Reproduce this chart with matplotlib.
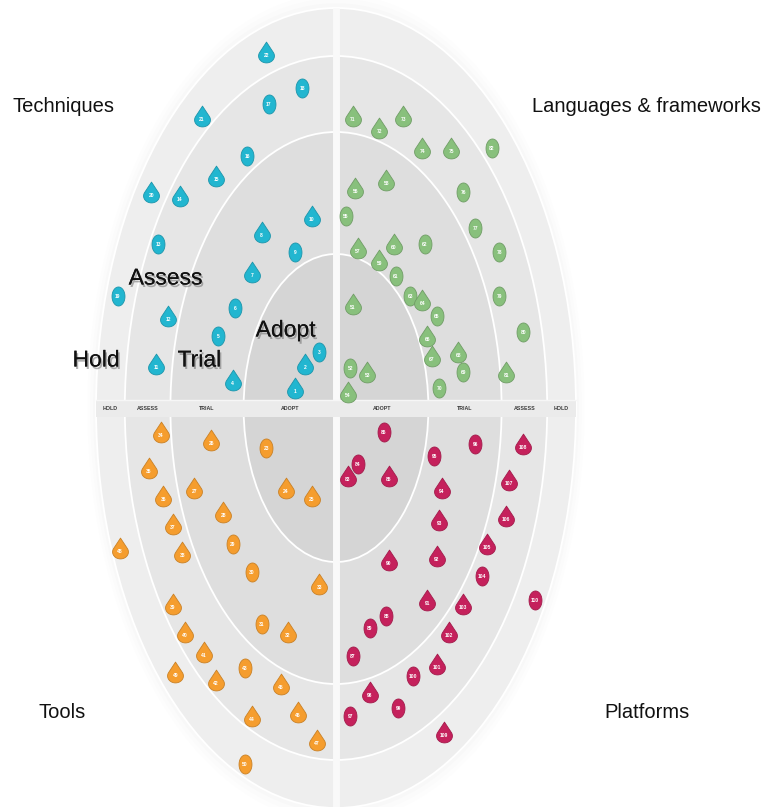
import numpy as np
import matplotlib
matplotlib.use("Agg")
import matplotlib.pyplot as plt
from matplotlib.patches import Circle, Rectangle
from matplotlib.path import Path
import matplotlib.patheffects as pe

# Rings (radius as fraction of the outer ring)
ring_names = ["Adopt", "Trial", "Assess", "Hold"]
ring_radii = [0.385, 0.69, 0.88, 1.0]
ring_colors = ["#d5d5d5", "#dedede", "#e6e6e6", "#eeeeee"]

quadrant_names = ["Techniques", "Languages & frameworks", "Tools", "Platforms"]
quadrant_colors = ["#22b6d0", "#88c07c", "#f59d2e", "#c5215c"]

# Blips: number, x, y in radar units, shape (t = new or moved, c = no change)
tech_num = list(range(1, 23))
tech_x = [-0.17, -0.13, -0.07, -0.43, -0.49, -0.42, -0.35, -0.31, -0.17, -0.10, -0.75,
          -0.70, -0.74, -0.65, -0.50, -0.37, -0.28, -0.14, -0.91, -0.77, -0.56, -0.29]
tech_y = [0.05, 0.11, 0.14, 0.07, 0.18, 0.25, 0.34, 0.44, 0.39, 0.48, 0.11,
          0.23, 0.41, 0.53, 0.58, 0.63, 0.76, 0.80, 0.28, 0.54, 0.73, 0.89]
tech_shape = "ttctc" "cttct" "ttctt" "cccct" "tt"

lang_num = list(range(51, 83))
lang_x = [0.07, 0.06, 0.13, 0.05, 0.04, 0.08, 0.09, 0.21, 0.18, 0.24, 0.25, 0.37, 0.31, 0.36,
          0.42, 0.38, 0.40, 0.51, 0.53, 0.43, 0.07, 0.18, 0.28, 0.36, 0.48, 0.53, 0.58, 0.68,
          0.68, 0.78, 0.71, 0.65]
lang_y = [0.26, 0.10, 0.09, 0.04, 0.48, 0.55, 0.40, 0.57, 0.37, 0.41, 0.33, 0.41, 0.28, 0.27,
          0.23, 0.18, 0.13, 0.14, 0.09, 0.05, 0.73, 0.70, 0.73, 0.65, 0.65, 0.54, 0.45, 0.39,
          0.28, 0.19, 0.09, 0.65]
lang_shape = "tcttc" "ttttt" "ccctc" "tttcc" "ttttt" "ccccc" "tc"

tool_num = list(range(23, 51))
tool_x = [-0.29, -0.21, -0.10, -0.52, -0.59, -0.47, -0.43, -0.35, -0.31, -0.20, -0.07, -0.73,
          -0.78, -0.72, -0.68, -0.64, -0.68, -0.63, -0.55, -0.50, -0.38, -0.35, -0.23, -0.16,
          -0.08, -0.90, -0.67, -0.38]
tool_y = [-0.10, -0.20, -0.22, -0.08, -0.20, -0.26, -0.34, -0.41, -0.54, -0.56, -0.44, -0.06,
          -0.15, -0.22, -0.29, -0.36, -0.49, -0.56, -0.61, -0.68, -0.65, -0.77, -0.69, -0.76,
          -0.83, -0.35, -0.66, -0.89]
tool_shape = "ctttt" "tccct" "ttttt" "ttttt" "ctttt" "ttc"

plat_num = list(range(83, 111))
plat_x = [0.05, 0.09, 0.22, 0.20, 0.07, 0.21, 0.14, 0.22, 0.38, 0.42, 0.43, 0.44, 0.41, 0.58,
          0.06, 0.14, 0.26, 0.32, 0.42, 0.47, 0.53, 0.61, 0.63, 0.71, 0.72, 0.78, 0.45, 0.83]
plat_y = [-0.17, -0.14, -0.17, -0.06, -0.62, -0.52, -0.55, -0.38, -0.48, -0.37, -0.28, -0.20,
          -0.12, -0.09, -0.77, -0.71, -0.75, -0.67, -0.64, -0.56, -0.49, -0.42, -0.34, -0.27,
          -0.18, -0.09, -0.81, -0.48]
plat_shape = "tctcc" "ccttt" "ttccc" "tcctt" "tcttt" "ttc"

blips = [
    (tech_num, tech_x, tech_y, tech_shape),
    (lang_num, lang_x, lang_y, lang_shape),
    (tool_num, tool_x, tool_y, tool_shape),
    (plat_num, plat_x, plat_y, plat_shape),
]

FONT = ["Liberation Sans", "DejaVu Sans"]


def darker(color, f=0.82):
    c = np.array(matplotlib.colors.to_rgb(color))
    return tuple(c * f)


# Marker shapes: the radar is stretched vertically, so blips are too
t = np.linspace(0, 2 * np.pi, 60)
circle_marker = Path(np.column_stack([0.68 * np.cos(t), np.sin(t)]), closed=True)
a = np.radians(np.linspace(150, 390, 50))
drop = np.column_stack([0.6 * np.cos(a), -0.3 + 0.6 * np.sin(a)])
drop = np.vstack([[0, 0.9], drop, [0, 0.9]])
drop[:, 0] *= 1.14
drop_marker = Path(drop, closed=True)

fig = plt.figure(figsize=(7.62, 8.07), dpi=100)
ax = fig.add_axes([0, 0, 1, 1])
ax.set_xlim(-1.4, 1.775)
ax.set_ylim(-0.9975, 1.02)
ax.axis("off")

# soft halo around the radar
for k, al in enumerate([0.05, 0.04, 0.03]):
    ax.add_patch(Circle((0, 0), 1.0 + 0.012 * (k + 1), color="#cfcfcf", alpha=al, lw=0))

for r, col in zip(ring_radii[::-1], ring_colors[::-1]):
    ax.add_patch(Circle((0, 0), r, facecolor=col, edgecolor="white", lw=1.3, zorder=1))

# quadrant dividers
ax.plot([0, 0], [-1, 1], color="#f9f9f9", lw=5, zorder=2, solid_capstyle="butt")
ax.add_patch(Rectangle((-1, -0.0225), 2, 0.0425, facecolor="#ebebeb",
                       edgecolor="none", zorder=2))
ax.plot([-1, 1], [0.02, 0.02], color="#f6f6f6", lw=1, zorder=2)

inner = [0] + ring_radii[:-1]
for r0, r1, name in zip(inner, ring_radii, ring_names):
    mid = (r0 + r1) / 2
    for side in (-1, 1):
        ax.text(side * mid, -0.001, name.upper(), ha="center", va="center",
                fontsize=3.8, fontweight="bold", color="#3a3a3a", zorder=3, family=FONT)

# blips
for (nums, xs, ys, shapes), col in zip(blips, quadrant_colors):
    for n, x, y, s in zip(nums, xs, ys, shapes):
        if s == "t":
            ax.plot(x, y, marker=drop_marker, ms=15, color=col,
                    mec=darker(col), mew=0.6, zorder=4)
            dy = -2.2
        else:
            ax.plot(x, y, marker=circle_marker, ms=13.7, color=col,
                    mec=darker(col), mew=0.6, zorder=4)
            dy = 0
        ax.annotate(str(n), (x, y), xytext=(0, dy), textcoords="offset points",
                    ha="center", va="center", fontsize=3.6, fontweight="bold",
                    color="white", zorder=5, family=FONT)

# large ring labels in the techniques quadrant
shadow = [pe.withSimplePatchShadow(offset=(1.2, -1.8), shadow_rgbFace="#666666", alpha=0.5),
          pe.Normal()]
for name, xy in zip(["Hold", "Assess", "Trial", "Adopt"],
                    [(-1.0, 0.12), (-0.71, 0.325), (-0.57, 0.12), (-0.21, 0.195)]):
    ax.text(xy[0], xy[1], name, ha="center", va="center", fontsize=16.5, color="#111111",
            family=FONT, zorder=6, path_effects=shadow)

# quadrant titles
for name, pos in zip(quadrant_names, [(63, 107), (646, 107), (62, 712), (647, 712)]):
    fig.text(pos[0] / 762, 1 - pos[1] / 807, name, ha="center", va="center",
             fontsize=14.5, color="#111111", family=FONT)

fig.savefig("out.png", dpi=100)
